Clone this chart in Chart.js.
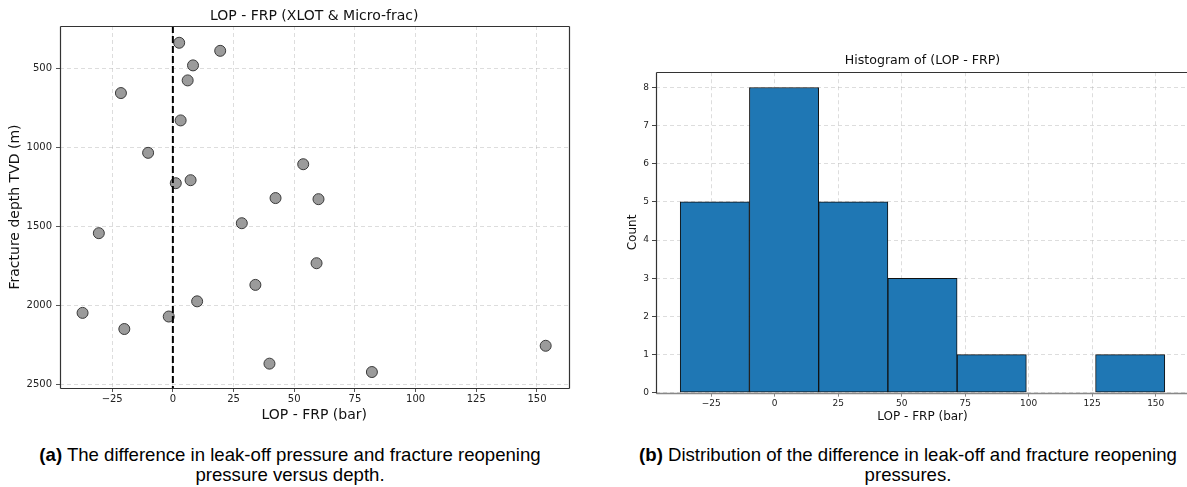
<!DOCTYPE html>
<html><head><meta charset="utf-8">
<script src="https://cdn.jsdelivr.net/npm/chart.js@4.4.1/dist/chart.umd.min.js"></script>
<style>
html,body{margin:0;padding:0;background:#fff;overflow:hidden;width:1187px;height:487px;}
#c1{position:absolute;left:0;top:0;}
#c2{position:absolute;left:600px;top:0;}
.cap{position:absolute;top:445px;width:580px;text-align:center;font-family:"Liberation Sans",Arial,sans-serif;font-size:18.6px;line-height:20px;color:#000;white-space:nowrap;}
</style></head><body>
<canvas id="c1" width="580" height="430"></canvas>
<canvas id="c2" width="600" height="430"></canvas>
<div class="cap" style="left:0px"><b>(a)</b> The difference in leak-off pressure and fracture reopening<br>pressure versus depth.</div>
<div class="cap" style="left:618px"><b>(b)</b> Distribution of the difference in leak-off and fracture reopening<br>pressures.</div>
<script>
// ---- data ----
const lopFrp   = [2.6, 19.5, 8.3, 6.1, -21.4, 3.2, -10.2, 1.2, 7.3, 42.3, 53.7, 60.0, 28.4, -30.5, 34.0, 10.0, -37.2, -1.7, -20.0, 39.8, 59.2, 153.6, 82.0];
const depthTVD = [338, 389, 481, 576, 656, 829, 1034, 1226, 1207, 1320, 1106, 1327, 1479, 1542, 1869, 1973, 2046, 2069, 2148, 2367, 1732, 2254, 2420];
const xTickValues = [-25, 0, 25, 50, 75, 100, 125, 150];
const xTickLabels = ['\u221225', '0', '25', '50', '75', '100', '125', '150'];
const depthTicks = [500, 1000, 1500, 2000, 2500];
const binEdges  = [-37.2, -9.9, 17.3, 44.6, 71.8, 99.1, 126.3, 153.6];
const binCounts = [5, 8, 5, 3, 1, 0, 1];
const countTicks = [0, 1, 2, 3, 4, 5, 6, 7, 8];
const zeroLineValue = 0;

Chart.defaults.font.family = '"DejaVu Sans", sans-serif';
Chart.defaults.color = '#222';
Chart.defaults.animation = false;

const gridColor = 'rgba(180,180,180,0.45)';
const labelFor = v => { const i = xTickValues.indexOf(v); return i >= 0 ? xTickLabels[i] : ''; };

function spinePlugin(id, cols) {
  return { id, afterDatasetsDraw(chart) {
    const {ctx, chartArea: a} = chart;
    ctx.save();
    const L = Math.round(a.left) + 0.5, R = Math.round(a.right) + 0.5, T = Math.round(a.top) + 0.5, B = Math.round(a.bottom) + 0.5;
    const seg = (x1, y1, x2, y2, c, w) => { ctx.beginPath(); ctx.strokeStyle = c; ctx.lineWidth = w; ctx.moveTo(x1, y1); ctx.lineTo(x2, y2); ctx.stroke(); };
    seg(L, T, R, T, cols.top, 1.2);
    seg(R, T, R, B, cols.right, 1.2);
    seg(L, B, R, B, cols.bottom, cols.bw || 1.2);
    seg(L, T, L, B, cols.left, 1.2);
    ctx.restore();
  }};
}

const zeroLine = { id: 'zeroLine', afterDatasetsDraw(chart) {
  const {ctx, chartArea: a, scales} = chart;
  const x = scales.x.getPixelForValue(zeroLineValue);
  ctx.save();
  ctx.beginPath();
  ctx.setLineDash([7, 3]);
  ctx.strokeStyle = '#000';
  ctx.lineWidth = 2;
  ctx.moveTo(x, a.top);
  ctx.lineTo(x, a.bottom);
  ctx.stroke();
  ctx.restore();
}};

// ---- left: scatter ----
new Chart(document.getElementById('c1'), {
  type: 'scatter',
  data: { datasets: [{
    data: lopFrp.map((v, i) => ({x: v, y: depthTVD[i]})),
    backgroundColor: '#9b9b9b', borderColor: '#3a3a3a', borderWidth: 1,
    pointRadius: 5.5, pointHoverRadius: 5.5
  }]},
  options: {
    responsive: false, events: [],
    layout: { padding: { left: 0, right: 11.5, top: 0, bottom: 0 } },
    plugins: {
      legend: { display: false }, tooltip: { enabled: false },
      title: { display: true, fullSize: false, text: 'LOP - FRP (XLOT & Micro-frac)', font: { size: 14, weight: 'normal' }, color: '#111', padding: { top: 7.6, bottom: 1.6 } }
    },
    scales: {
      x: {
        type: 'linear', min: -46.5, max: 163,
        afterBuildTicks: s => { s.ticks = xTickValues.map(v => ({value: v})); },
        afterFit: s => { s.height = 42; },
        ticks: { callback: v => labelFor(v), font: { size: 10 }, padding: 1.5, maxRotation: 0, autoSkip: false },
        grid: { color: gridColor, tickColor: '#555', tickLength: 4, tickBorderDash: [] },
        border: { display: false, dash: [4, 3] },
        title: { display: true, text: 'LOP - FRP (bar)', font: { size: 14 }, color: '#111', padding: { top: 0, bottom: 6.6 } }
      },
      y: {
        type: 'linear', reverse: true, min: 232, max: 2521,
        afterBuildTicks: s => { s.ticks = depthTicks.map(v => ({value: v})); },
        afterFit: s => { s.width = 60; },
        ticks: { callback: v => String(v), font: { size: 10 }, padding: 4, autoSkip: false },
        grid: { color: gridColor, tickColor: '#555', tickLength: 4, tickBorderDash: [] },
        border: { display: false, dash: [4, 3] },
        title: { display: true, text: 'Fracture depth TVD (m)', font: { size: 14 }, color: '#111', padding: { top: 7, bottom: 0 } }
      }
    }
  },
  plugins: [zeroLine, spinePlugin('sp1', {top: '#333', right: '#333', bottom: '#333', left: '#333'})]
});

// ---- right: histogram ----
new Chart(document.getElementById('c2'), {
  type: 'bar',
  data: { datasets: [{
    xAxisID: 'xb',
    data: binCounts.map((c, i) => ({x: (binEdges[i] + binEdges[i + 1]) / 2, y: c})),
    backgroundColor: '#1f77b4', borderColor: '#111', borderWidth: 1, borderSkipped: false,
    barPercentage: 1, categoryPercentage: 1
  }]},
  options: {
    responsive: false, events: [],
    layout: { padding: { left: 0, right: 11, top: 44, bottom: 0 } },
    plugins: {
      legend: { display: false }, tooltip: { enabled: false },
      title: { display: true, fullSize: false, text: 'Histogram of (LOP - FRP)', font: { size: 12.6, weight: 'normal' }, color: '#111', padding: { top: 9.6, bottom: 3.5 } }
    },
    scales: {
      x: {
        type: 'linear', min: -46.7, max: 163.1, z: 1, offset: false,
        afterBuildTicks: s => { s.ticks = xTickValues.map(v => ({value: v})); },
        afterFit: s => { s.height = 37.3; },
        ticks: { callback: v => labelFor(v), font: { size: 9 }, padding: 2, maxRotation: 0, autoSkip: false },
        grid: { offset: false, color: gridColor, tickColor: '#888', tickLength: 4, tickBorderDash: [] },
        border: { display: false, dash: [4, 3] },
        title: { display: true, text: 'LOP - FRP (bar)', font: { size: 12 }, color: '#111', padding: { top: 0, bottom: 6 } }
      },
      xb: {
        type: 'linear', axis: 'x', display: false, min: -46.7, max: 163.1, offset: false,
        grid: { offset: false },
        afterBuildTicks: s => { s.ticks = [{value: binEdges[0]}]; }
      },
      y: {
        type: 'linear', min: 0, max: 8.4, z: 1,
        afterBuildTicks: s => { s.ticks = countTicks.map(v => ({value: v})); },
        afterFit: s => { s.width = 56; },
        ticks: { callback: v => String(v), font: { size: 9 }, padding: 3, autoSkip: false },
        grid: { color: gridColor, tickColor: '#444', tickLength: 4, tickBorderDash: [] },
        border: { display: false, dash: [4, 3] },
        title: { display: true, text: 'Count', font: { size: 12 }, color: '#111', padding: { top: 26, bottom: 0 } }
      }
    }
  },
  plugins: [spinePlugin('sp2', {top: '#333', right: '#333', bottom: '#888', left: '#333', bw: 1.6})]
});
</script>
</body></html>
